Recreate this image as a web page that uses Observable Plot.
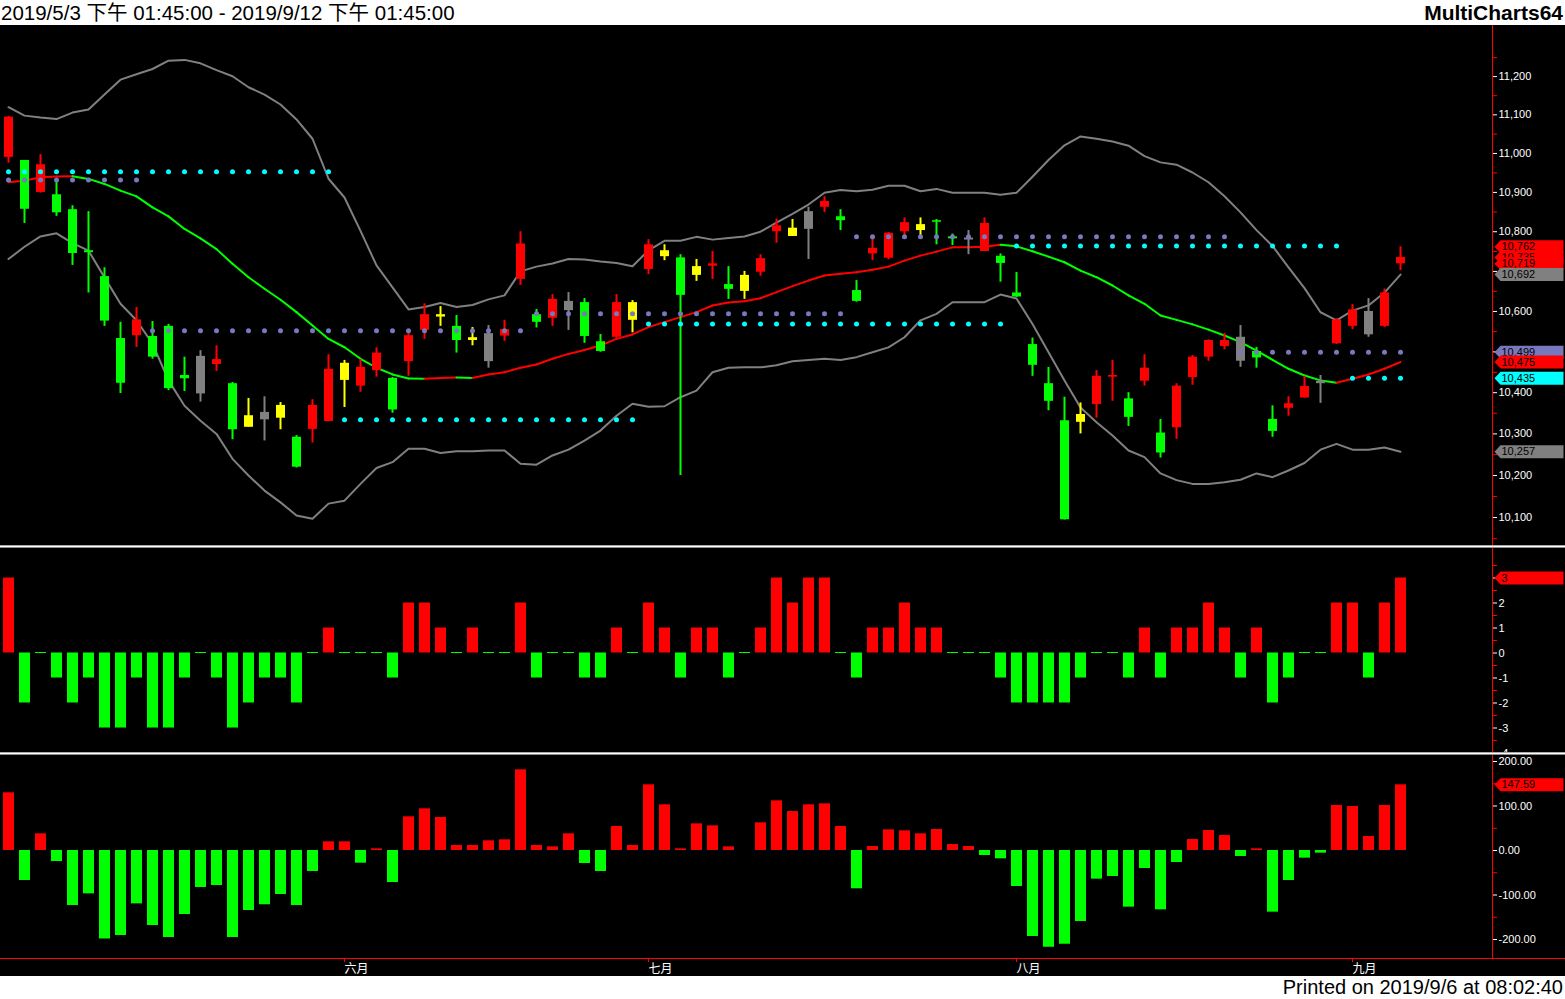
<!DOCTYPE html>
<html>
<head>
<meta charset="utf-8">
<script src="https://cdn.jsdelivr.net/npm/d3@7"></script>
<script src="https://cdn.jsdelivr.net/npm/@observablehq/plot@0.6"></script>
<style>
html, body { margin: 0; padding: 0; background: #fff; overflow: hidden; width: 1565px; height: 999px; }
#header { height: 25px; position: relative; background: #fff; font-family: "Liberation Sans", "Noto Sans CJK SC", sans-serif; color: #000; }
#title { position: absolute; left: 1px; top: 0; line-height: 25px; font-size: 20.5px; white-space: nowrap; }
#brand { position: absolute; right: 2px; top: 0; line-height: 25px; font-size: 21px; font-weight: bold; white-space: nowrap; }
.panel { position: relative; background: #000; }
.panel svg { display: block; }
.sep { height: 3px; background: linear-gradient(#a8a8a8 0 1px, #ffffff 1px 2px, #8c8c8c 2px 3px); }
#baseline { position: absolute; left: 0; top: 203px; width: 1565px; height: 1px; background: #ff0000; }
#footer { height: 23px; position: relative; background: #fff; font-family: "Liberation Sans", sans-serif; color: #000; }
#printed { position: absolute; right: 2px; top: 0; line-height: 23px; font-size: 20px; white-space: nowrap; }
</style>
</head>
<body>
<div id="header"><span id="title">2019/5/3 下午 01:45:00 - 2019/9/12 下午 01:45:00</span><span id="brand">MultiCharts64</span></div>
<div id="p1" class="panel"></div>
<div class="sep"></div>
<div id="p2" class="panel"></div>
<div class="sep"></div>
<div id="p3" class="panel"><div id="baseline"></div></div>
<div id="footer"><span id="printed">Printed on 2019/9/6 at 08:02:40</span></div>
<script>
// ---------- DATA (daily bars 2019/5/3 .. 2019/9/5, index 0..87) ----------
const open = [10990,10982,10900,10894,10856,10752,10687,10533,10540,10538,
  10563,10442,10489,10469,10422,10316,10352,10338,10292,10311,
  10330,10430,10416,10454,10435,10476,10553,10586,10563,10528,
  10545,10539,10680,10592,10583,10625,10622,10525,10536,10578,
  10705,10737,10734,10690,10713,10667,10650,10698,10800,10788,
  10851,10862,10838,10652,10744,10733,10800,10803,10828,10787,
  10784,10750,10738,10646,10518,10422,10332,10328,10371,10438,
  10385,10428,10302,10315,10437,10487,10513,10536,10501,10335,
  10362,10387,10428,10520,10563,10600,10563,10719];
const high = [11096,10982,10997,10935,10866,10851,10709,10573,10610,10575,
  10568,10487,10503,10515,10425,10386,10390,10376,10296,10383,
  10493,10479,10481,10510,10437,10546,10619,10612,10590,10560,
  10565,10578,10800,10605,10642,10647,10632,10543,10642,10627,
  10780,10767,10742,10730,10750,10712,10700,10742,10832,10831,
  10862,10889,10856,10677,10782,10798,10835,10835,10831,10794,
  10803,10835,10744,10697,10534,10462,10389,10375,10454,10479,
  10400,10493,10335,10422,10491,10530,10545,10565,10511,10368,
  10390,10440,10442,10582,10617,10632,10656,10762];
const low = [10975,10821,10898,10839,10715,10646,10563,10398,10511,10482,
  10405,10403,10377,10452,10286,10316,10283,10310,10218,10278,
  10329,10364,10401,10438,10350,10440,10531,10563,10497,10515,
  10460,10526,10665,10559,10563,10553,10521,10499,10532,10547,
  10692,10727,10200,10675,10680,10630,10630,10688,10771,10788,
  10730,10849,10803,10623,10727,10729,10790,10790,10767,10765,
  10742,10750,10673,10635,10440,10356,10094,10300,10338,10379,
  10318,10416,10242,10287,10418,10477,10505,10462,10460,10292,
  10343,10387,10374,10518,10555,10536,10560,10702];
const close = [11094,10857,10971,10848,10745,10747,10576,10423,10579,10487,
  10410,10434,10397,10481,10310,10344,10334,10369,10220,10369,
  10457,10472,10462,10497,10358,10540,10592,10592,10528,10535,
  10476,10555,10769,10573,10630,10602,10538,10501,10622,10622,
  10767,10752,10640,10712,10719,10655,10690,10732,10815,10809,
  10806,10877,10828,10625,10758,10796,10823,10818,10824,10782,
  10779,10821,10720,10636,10467,10379,10095,10347,10440,10442,
  10340,10460,10254,10416,10487,10528,10528,10477,10485,10306,
  10373,10415,10422,10579,10604,10542,10646,10735];
// candle paint: r = red, g = green, y = yellow, k = grey
const candlePaint = ("rgrgggggrg" + "ggkrgykygr" + "ryrrgrrygy" + "krrgrkggry" + "rygyrgyrry" +
  "krggrrrygg" + "krgggggyrr" + "grgrrrrkgg" + "rrkrrkrr").split("");
const bbUpper = [11120,11098,11093,11089,11106,11114,11153,11192,11206,11220,
  11242,11244,11235,11217,11201,11172,11153,11127,11088,11038,
  10935,10887,10802,10715,10660,10605,10611,10621,10611,10616,
  10630,10640,10700,10712,10720,10731,10730,10725,10721,10713,
  10753,10777,10777,10787,10780,10784,10788,10800,10823,10845,
  10869,10899,10906,10903,10907,10917,10917,10903,10909,10899,
  10899,10899,10894,10899,10940,10983,11021,11044,11038,11031,
  11020,10993,10977,10971,10951,10926,10890,10849,10804,10764,
  10710,10658,10598,10578,10602,10615,10647,10692];
const bbLower = [10731,10762,10788,10796,10771,10752,10685,10619,10578,10520,
  10430,10368,10332,10300,10240,10200,10164,10136,10105,10097,
  10133,10140,10180,10218,10232,10264,10264,10254,10258,10258,
  10260,10260,10228,10226,10248,10262,10284,10308,10344,10373,
  10366,10367,10389,10405,10450,10461,10462,10462,10467,10477,
  10480,10483,10480,10487,10499,10511,10536,10578,10594,10623,
  10623,10623,10642,10632,10569,10499,10430,10364,10328,10296,
  10260,10244,10205,10189,10180,10180,10184,10190,10205,10196,
  10212,10230,10262,10276,10262,10262,10267,10257];
const maLine = [10926,10930,10938.7,10941,10941.5,10934.6,10921.7,10904.6,10890,10862,
  10839,10807,10783,10756,10719,10685.4,10656.5,10629,10598.3,10565,
  10532,10511.4,10483,10461,10444.6,10434.5,10434,10436,10437,10436,
  10444.6,10450,10461,10469,10483,10495,10504.7,10515.7,10532,10543,
  10561,10573.5,10586,10598.3,10614.7,10622.4,10625.6,10633,10648,10663,
  10677,10689.6,10694,10698,10704,10712,10727,10739.7,10749.7,10760.5,
  10761,10762,10767.3,10763,10750.5,10737,10723,10702,10685.4,10664.7,
  10640,10619,10590,10579,10568,10555,10540.5,10524,10503,10480.5,
  10458.5,10442,10430,10424.5,10434,10444.6,10458.5,10475];
// dotted levels: [kind, first bar, last bar, price]
const levelRuns = [
  ["cyan", 0, 20, 10953], ["cyan", 21, 39, 10334], ["cyan", 40, 62, 10569], ["cyan", 63, 83, 10764], ["cyan", 84, 87, 10435],
  ["slate", 0, 8, 10932], ["slate", 9, 32, 10552], ["slate", 33, 52, 10594], ["slate", 53, 76, 10787], ["slate", 77, 87, 10499]
];
const countHist = [3,-2,0,-1,-2,-1,-3,-3,-1,-3,
  -3,-1,0,-1,-3,-2,-1,-1,-2,0,
  1,0,0,0,-1,2,2,1,0,1,
  0,0,2,-1,0,0,-1,-1,1,0,
  2,1,-1,1,1,-1,0,1,3,2,
  3,3,0,-1,1,1,2,1,1,0,
  0,0,-1,-2,-2,-2,-2,-1,0,0,
  -1,1,-1,1,1,2,1,-1,1,-2,
  -1,0,0,2,2,-1,2,3];
const momHist = [129.6,-67.4,37.5,-24.7,-123.6,-97.4,-199,-191,-119.9,-168.5,
  -195.5,-143.8,-83.1,-78.7,-195.5,-134.8,-122,-98.9,-123.6,-47.2,
  19.5,19.5,-28.5,3.7,-71.9,75.7,93.6,74.2,11.2,11.2,
  21.7,24,181.3,11.2,8.2,37.5,-29.2,-47.2,53.9,11.2,
  147.6,102.6,3.7,59.9,55.4,8.2,0,62.2,111.6,87.6,
  102.6,104.9,53.9,-86.1,9,46.4,44.2,37.5,47.2,13.5,
  9,-11.2,-18.7,-80.9,-193.3,-217.2,-210.5,-159.6,-64.4,-58.4,
  -127.3,-40.4,-133.3,-27,24.7,44.9,33.7,-13.5,3.7,-138.6,
  -67.4,-17.2,-6,101.1,98.9,31.5,101.1,147.59];
const monthIdx = [21, 40, 63, 84];
const monthLabels = ["六月", "七月", "八月", "九月"];
const priceTicks = d3.range(10100, 11201, 100);
const priceMinor = d3.range(10050, 11301, 100);
const countTicks = [-4, -3, -2, -1, 0, 1, 2, 3];
const countMinor = [-3.5, -2.5, -1.5, -0.5, 0.5, 1.5, 2.5, 3.5];
const momTicks = [-200, -100, 0, 100, 200];
const momMinor = [-150, -50, 50, 150];

// ---------- LAYOUT / STYLE ----------
const W = 1565, MR = 73;
const X_DOMAIN = [-0.5, 92.75];
const PRICE_DOMAIN = [10034, 11335];
const COUNT_DOMAIN = [-3.98, 4.18];
const MOM_DOMAIN = [-242.7, 213.5];
const RED = "#ff0000", LIME = "#00ff00", YEL = "#ffff00", GREY = "#808080", CYAN = "#00ffff", SLATE = "#7878be";
const paint = {r: RED, g: LIME, y: YEL, k: GREY};
const levelColor = {cyan: CYAN, slate: SLATE};
const baseStyle = {background: "#000", color: "#fff", fontFamily: '"Liberation Sans", Arial, sans-serif', fontSize: "11px", overflow: "hidden"};

const N = close.length;
const idx = d3.range(N);
const last = N - 1;
const candles = idx.map(i => ({i, o: open[i], h: high[i], l: low[i], c: close[i], col: paint[candlePaint[i]]}));
const maSegs = idx.slice(1).map(i => ({x1: i - 1, x2: i, y1: maLine[i - 1], y2: maLine[i], col: maLine[i] >= maLine[i - 1] ? RED : LIME}));
const levelDots = levelRuns.flatMap(([kind, a, b, v]) => d3.range(a, b + 1).map(i => ({i, v, col: levelColor[kind]})));
const lastLevel = kind => levelRuns.filter(r => r[0] === kind).slice(-1)[0][3];
const fmtP = d3.format(",");

const FLAG = {draw(ctx) { ctx.moveTo(0, 0); ctx.lineTo(6, -6.5); ctx.lineTo(69, -6.5); ctx.lineTo(69, 6.5); ctx.lineTo(6, 6.5); ctx.closePath(); }};
function flagMarks(flags) {
  return flags.flatMap(f => [
    Plot.dot([f], {y: "v", frameAnchor: "right", dx: 2, fill: f.col, stroke: null, symbol: FLAG}),
    Plot.text([f], {y: "v", frameAnchor: "right", dx: 9, text: "label", textAnchor: "start", fill: "#000", fontSize: 11})
  ]);
}
function rightAxes(majors, fmt, minors) {
  return [
    Plot.axisY({anchor: "right", ticks: minors, tickFormat: () => "", tickSize: 4, stroke: RED, label: null}),
    Plot.axisY({anchor: "right", ticks: majors, tickFormat: fmt, tickSize: 4, tickPadding: 2, stroke: "#fff", fill: "#fff", fontSize: 11, label: null})
  ];
}

const priceFlags = [
  {v: close[last], col: RED}, {v: open[last], col: RED}, {v: bbUpper[last], col: GREY}, {v: high[last], col: RED},
  {v: lastLevel("slate"), col: SLATE}, {v: maLine[last], col: RED}, {v: lastLevel("cyan"), col: CYAN}, {v: bbLower[last], col: GREY}
].map(f => ({...f, label: fmtP(f.v)}));

// ---------- PRICE PANEL ----------
const pricePlot = Plot.plot({
  width: W, height: 520, marginTop: 0, marginBottom: 0, marginLeft: 0, marginRight: MR,
  style: baseStyle,
  x: {domain: X_DOMAIN, axis: null},
  y: {type: "log", domain: PRICE_DOMAIN},
  color: {type: "identity"},
  marks: [
    Plot.ruleX([X_DOMAIN[1]], {stroke: RED}),
    ...rightAxes(priceTicks, fmtP, priceMinor),
    Plot.line(idx, {x: i => i, y: i => bbUpper[i], stroke: GREY, strokeWidth: 2}),
    Plot.line(idx, {x: i => i, y: i => bbLower[i], stroke: GREY, strokeWidth: 2}),
    Plot.link(maSegs, {x1: "x1", y1: "y1", x2: "x2", y2: "y2", stroke: "col", strokeWidth: 2, strokeLinecap: "round"}),
    Plot.ruleX(candles, {x: "i", y1: "l", y2: "h", stroke: "col", strokeWidth: 2}),
    Plot.ruleX(candles, {x: "i", y1: "o", y2: "c", stroke: "col", strokeWidth: 9}),
    Plot.dot(levelDots, {x: "i", y: "v", fill: "col", r: 2.5, stroke: null}),
    ...flagMarks(priceFlags)
  ]
});
document.getElementById("p1").appendChild(pricePlot);

// ---------- COUNT PANEL ----------
const countBars = idx.map(i => ({i, v: countHist[i]}));
const countPlot = Plot.plot({
  width: W, height: 204, marginTop: 0, marginBottom: 0, marginLeft: 0, marginRight: MR,
  style: baseStyle,
  x: {domain: X_DOMAIN, axis: null},
  y: {domain: COUNT_DOMAIN},
  color: {type: "identity"},
  marks: [
    Plot.ruleX([X_DOMAIN[1]], {stroke: RED}),
    ...rightAxes(countTicks, d => String(d), countMinor),
    Plot.ruleX(countBars.filter(d => d.v !== 0), {x: "i", y1: 0, y2: "v", stroke: d => d.v > 0 ? RED : LIME, strokeWidth: 11}),
    Plot.ruleX(countBars.filter(d => d.v === 0), {x: "i", y1: 0, y2: 0, stroke: LIME, strokeWidth: 11, insetTop: -0.5, insetBottom: -0.5}),
    ...flagMarks([{v: countHist[last], label: String(countHist[last]), col: RED}])
  ]
});
document.getElementById("p2").appendChild(countPlot);

// ---------- MOMENTUM PANEL ----------
const momBars = idx.map(i => ({i, v: momHist[i]})).filter(d => d.v !== 0);
const momPlot = Plot.plot({
  width: W, height: 221, marginTop: 0, marginBottom: 18, marginLeft: 0, marginRight: MR,
  style: baseStyle,
  x: {domain: X_DOMAIN},
  y: {domain: MOM_DOMAIN},
  color: {type: "identity"},
  marks: [
    Plot.ruleX([X_DOMAIN[1]], {stroke: RED}),
    ...rightAxes(momTicks, d => d.toFixed(2), momMinor),
    Plot.ruleX(momBars, {x: "i", y1: 0, y2: "v", stroke: d => d.v > 0 ? RED : LIME, strokeWidth: 11}),
    Plot.axisX({anchor: "bottom", ticks: monthIdx, tickFormat: d => monthLabels[monthIdx.indexOf(d)], tickSize: 4, tickPadding: 2,
      stroke: RED, fill: "#fff", textAnchor: "start", fontSize: 12, fontFamily: '"Noto Sans CJK SC", sans-serif', label: null}),
    ...flagMarks([{v: momHist[last], label: momHist[last].toFixed(2), col: RED}])
  ]
});
document.getElementById("p3").insertBefore(momPlot, document.getElementById("baseline"));
</script>
</body>
</html>
